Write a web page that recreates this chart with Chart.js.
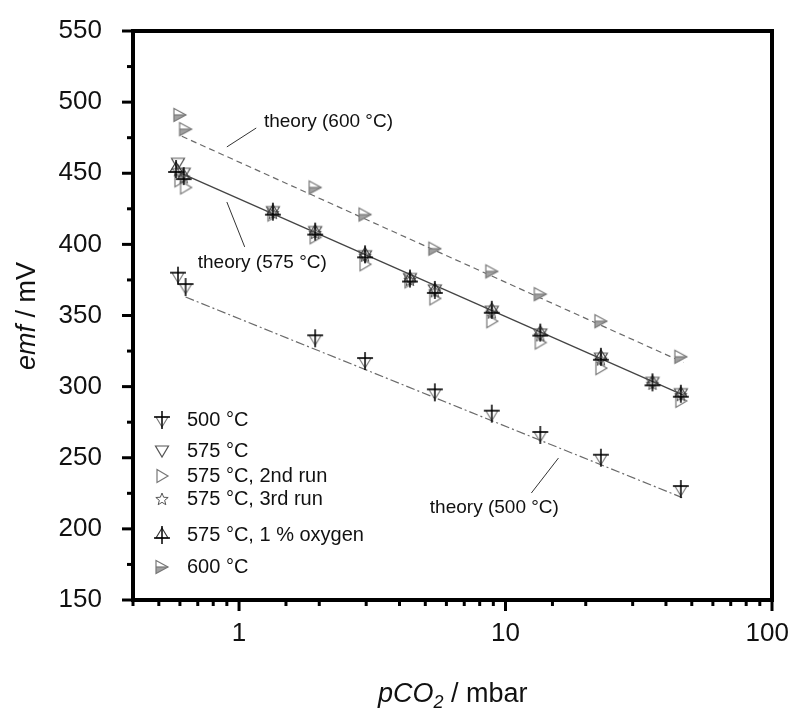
<!DOCTYPE html>
<html>
<head>
<meta charset="utf-8">
<script src="https://cdn.jsdelivr.net/npm/chart.js@4.4.0/dist/chart.umd.min.js"></script>
<style>
  html, body { margin: 0; padding: 0; background: #fff; }
  #wrap { width: 792px; height: 711px; }
</style>
</head>
<body>
<div id="wrap"><canvas id="emfChart" width="792" height="711"></canvas></div>
<script>
// values: pCO2 in mbar, emf in mV
const p500 = [0.59, 0.63, 1.93, 2.97, 5.43, 8.88, 13.5, 22.8, 45.5];
const emf500 = [378, 370, 334, 318, 296, 281, 266, 250, 228];

const p575 = [0.59, 0.62, 1.34, 1.93, 2.97, 4.38, 5.43, 8.88, 13.5, 22.8, 35.6, 45.5];
const emf575 = [457, 450, 423, 409, 392, 376, 368, 353, 337, 320, 303, 295];

const p575run2 = [0.6, 0.63, 1.34, 1.93, 2.97, 4.38, 5.43, 8.88, 13.5, 22.8, 45.5];
const emf575run2 = [445, 440, 421, 405, 386, 374, 362, 346, 331, 313, 290];

const p575run3 = [0.59, 0.62, 1.34, 1.93, 2.97, 4.38, 5.43, 8.88, 13.5, 22.8, 35.6, 45.5];
const emf575run3 = [452, 447, 422, 408, 392, 375, 367, 352, 336, 319, 302, 294];

const p575ox = [0.58, 0.62, 1.34, 1.93, 2.97, 4.38, 5.43, 8.88, 13.5, 22.8, 35.6, 45.5];
const emf575ox = [453, 448, 423, 409, 393, 376, 368, 354, 338, 321, 303, 295];

const p600 = [0.6, 0.63, 1.93, 2.97, 5.43, 8.88, 13.5, 22.8, 45.5];
const emf600 = [491, 481, 440, 421, 397, 381, 365, 346, 321];

// theory lines, end points
const pTheory600 = [0.61, 46.5];
const emfTheory600 = [476, 317];
const pTheory575 = [0.59, 46.5];
const emfTheory575 = [451, 294];
const pTheory500 = [0.63, 46];
const emfTheory500 = [363, 222];

const seriesLabels = ['500 °C', '575 °C', '575 °C, 2nd run', '575 °C, 3rd run', '575 °C, 1 % oxygen', '600 °C'];
const yTickLabels = [150, 200, 250, 300, 350, 400, 450, 500, 550];
const xTickLabels = [1, 10, 100];

const FONT = '"Liberation Sans", Arial, Helvetica, sans-serif';

function pts(xs, ys) {
  return xs.map((x, i) => ({ x: x, y: ys[i] }));
}

// --- marker images ---
function marker(drawFn) {
  const c = document.createElement('canvas');
  c.width = 22; c.height = 22;
  const g = c.getContext('2d');
  g.lineJoin = 'miter';
  drawFn(g);
  return c;
}
function tri(g, a, b, c) {
  g.beginPath(); g.moveTo(a[0], a[1]); g.lineTo(b[0], b[1]); g.lineTo(c[0], c[1]); g.closePath();
}
const mk500 = marker(g => {
  g.strokeStyle = '#777'; g.lineWidth = 1.1;
  tri(g, [5, 8], [17, 8], [11, 18]); g.stroke();
  g.strokeStyle = '#000'; g.lineWidth = 1.5;
  g.beginPath(); g.moveTo(3, 8); g.lineTo(19, 8); g.moveTo(11, 2); g.lineTo(11, 20); g.stroke();
});
const mk575 = marker(g => {
  g.strokeStyle = '#555'; g.lineWidth = 1.2;
  tri(g, [4.5, 6], [17.5, 6], [11, 17]); g.stroke();
});
const mk575run2 = marker(g => {
  g.strokeStyle = '#777'; g.lineWidth = 1.2;
  tri(g, [6, 4.5], [17, 11], [6, 17.5]); g.stroke();
});
const mk575run3 = marker(g => {
  g.strokeStyle = '#555'; g.lineWidth = 1;
  g.beginPath();
  for (let i = 0; i < 10; i++) {
    const r = i % 2 === 0 ? 6.5 : 2.8;
    const a = -Math.PI / 2 + i * Math.PI / 5;
    const x = 11 + r * Math.cos(a), y = 11.5 + r * Math.sin(a);
    if (i === 0) g.moveTo(x, y); else g.lineTo(x, y);
  }
  g.closePath(); g.stroke();
});
const mk575ox = marker(g => {
  g.strokeStyle = '#333'; g.lineWidth = 1.1;
  tri(g, [5, 14], [17, 14], [11, 4]); g.stroke();
  g.strokeStyle = '#000'; g.lineWidth = 1.5;
  g.beginPath(); g.moveTo(3, 14); g.lineTo(19, 14); g.moveTo(11, 2); g.lineTo(11, 20); g.stroke();
});
const mk600 = marker(g => {
  g.fillStyle = '#a0a0a0';
  g.beginPath(); g.moveTo(5, 11); g.lineTo(17, 11); g.lineTo(5, 17.5); g.closePath(); g.fill();
  g.strokeStyle = '#777'; g.lineWidth = 1.2;
  tri(g, [5, 4.5], [17, 11], [5, 17.5]); g.stroke();
  g.beginPath(); g.moveTo(5, 11); g.lineTo(17, 11); g.stroke();
});
const markers = [mk500, mk575, mk575run2, mk575run3, mk575ox, mk600];

// annotation labels, placed in data coordinates
const notes = [
  { text: 'theory (600 °C)', at: [1.24, 486], lead: [[0.90, 468.5], [1.16, 481.8]] },
  { text: 'theory (575 °C)', at: [0.70, 387], lead: [[0.90, 429.8], [1.05, 398.2]] },
  { text: 'theory (500 °C)', at: [5.2, 214.7], lead: [[15.8, 249.8], [12.5, 225.2]] }
];
const legendRows = [420, 451, 476, 499, 535, 567];

function drawRuns(ctx, runs, x, y) {
  let cx = x;
  runs.forEach(r => {
    ctx.font = r.font;
    ctx.fillText(r.text, cx, y + (r.dy || 0));
    cx += ctx.measureText(r.text).width;
  });
  return cx - x;
}
function runsWidth(ctx, runs) {
  let w = 0;
  runs.forEach(r => { ctx.font = r.font; w += ctx.measureText(r.text).width; });
  return w;
}

const decorations = {
  id: 'decorations',
  afterDraw(chart) {
    const ctx = chart.ctx;
    const a = chart.chartArea;
    const xs = chart.scales.x, ys = chart.scales.y;
    ctx.save();

    // ticks outside the frame
    ctx.strokeStyle = '#000';
    ctx.lineWidth = 3;
    ctx.lineCap = 'butt';
    ys.ticks.forEach(t => {
      const y = ys.getPixelForValue(t.value);
      const len = t.value % 50 === 0 ? 11 : 6;
      ctx.beginPath(); ctx.moveTo(a.left - len, y); ctx.lineTo(a.left, y); ctx.stroke();
    });
    xs.ticks.forEach(t => {
      const x = xs.getPixelForValue(t.value);
      const lg = Math.log10(t.value);
      const len = Math.abs(lg - Math.round(lg)) < 1e-6 ? 11 : 6;
      ctx.beginPath(); ctx.moveTo(x, a.bottom); ctx.lineTo(x, a.bottom + len); ctx.stroke();
    });

    // frame
    ctx.lineWidth = 4;
    ctx.strokeRect(a.left, a.top, a.right - a.left, a.bottom - a.top);

    // tick labels
    ctx.fillStyle = '#111';
    ctx.font = '26px ' + FONT;
    ctx.textBaseline = 'middle';
    ctx.textAlign = 'right';
    yTickLabels.forEach(v => {
      ctx.fillText(String(v), 102, ys.getPixelForValue(v));
    });
    ctx.textAlign = 'left';
    xTickLabels.forEach(v => {
      const x = xs.getPixelForValue(v);
      const s = String(v);
      const w = ctx.measureText(s).width;
      let left = x - w / 2;
      if (left + w > 789) left = 789 - w;
      ctx.fillText(s, left, 634);
    });

    // axis titles
    ctx.textBaseline = 'alphabetic';
    drawRuns(ctx, [
      { text: 'pCO', font: 'italic 27px ' + FONT },
      { text: '2', font: 'italic 18px ' + FONT, dy: 6 },
      { text: ' / mbar', font: '27px ' + FONT }
    ], 378, 702);

    const yRuns = [
      { text: 'emf', font: 'italic 27px ' + FONT },
      { text: ' / mV', font: '27px ' + FONT }
    ];
    ctx.save();
    ctx.translate(35, 316);
    ctx.rotate(-Math.PI / 2);
    drawRuns(ctx, yRuns, -runsWidth(ctx, yRuns) / 2, 0);
    ctx.restore();

    // theory labels with leader lines
    ctx.font = '19px ' + FONT;
    ctx.textBaseline = 'middle';
    ctx.strokeStyle = '#333';
    ctx.lineWidth = 1;
    notes.forEach(n => {
      ctx.fillText(n.text, xs.getPixelForValue(n.at[0]), ys.getPixelForValue(n.at[1]));
      ctx.beginPath();
      ctx.moveTo(xs.getPixelForValue(n.lead[0][0]), ys.getPixelForValue(n.lead[0][1]));
      ctx.lineTo(xs.getPixelForValue(n.lead[1][0]), ys.getPixelForValue(n.lead[1][1]));
      ctx.stroke();
    });

    // legend
    ctx.font = '20px ' + FONT;
    seriesLabels.forEach((lab, i) => {
      const y = legendRows[i];
      ctx.drawImage(markers[i], 162 - 11, y - 11);
      ctx.fillText(lab, 187, y);
    });

    ctx.restore();
  }
};

const scatterBase = { type: 'scatter', showLine: false, pointRadius: 8, pointHoverRadius: 8 };

new Chart(document.getElementById('emfChart'), {
  data: {
    datasets: [
      Object.assign({}, scatterBase, { label: seriesLabels[5], data: pts(p600, emf600), pointStyle: mk600 }),
      Object.assign({}, scatterBase, { label: seriesLabels[0], data: pts(p500, emf500), pointStyle: mk500 }),
      Object.assign({}, scatterBase, { label: seriesLabels[4], data: pts(p575ox, emf575ox), pointStyle: mk575ox }),
      Object.assign({}, scatterBase, { label: seriesLabels[3], data: pts(p575run3, emf575run3), pointStyle: mk575run3 }),
      Object.assign({}, scatterBase, { label: seriesLabels[2], data: pts(p575run2, emf575run2), pointStyle: mk575run2 }),
      Object.assign({}, scatterBase, { label: seriesLabels[1], data: pts(p575, emf575), pointStyle: mk575 }),
      {
        type: 'line', label: 'theory (600 °C)', data: pts(pTheory600, emfTheory600),
        borderColor: '#6a6a6a', borderWidth: 1.2, borderDash: [6, 4], pointRadius: 0, fill: false
      },
      {
        type: 'line', label: 'theory (575 °C)', data: pts(pTheory575, emfTheory575),
        borderColor: '#444', borderWidth: 1.3, pointRadius: 0, fill: false
      },
      {
        type: 'line', label: 'theory (500 °C)', data: pts(pTheory500, emfTheory500),
        borderColor: '#6a6a6a', borderWidth: 1.2, borderDash: [9, 3, 2, 3], pointRadius: 0, fill: false
      }
    ]
  },
  options: {
    responsive: false,
    animation: false,
    devicePixelRatio: 1,
    layout: { padding: { top: 31, right: 20, left: 0, bottom: 0 } },
    plugins: {
      legend: { display: false },
      tooltip: { enabled: false }
    },
    scales: {
      x: {
        type: 'logarithmic',
        min: 0.4,
        max: 100,
        grid: { display: false, drawTicks: false },
        border: { display: false },
        ticks: { display: false },
        afterFit: s => { s.height = 111; }
      },
      y: {
        type: 'linear',
        min: 150,
        max: 550,
        grid: { display: false, drawTicks: false },
        border: { display: false },
        ticks: { display: false, stepSize: 25 },
        afterFit: s => { s.width = 133; }
      }
    }
  },
  plugins: [decorations]
});
</script>
</body>
</html>
